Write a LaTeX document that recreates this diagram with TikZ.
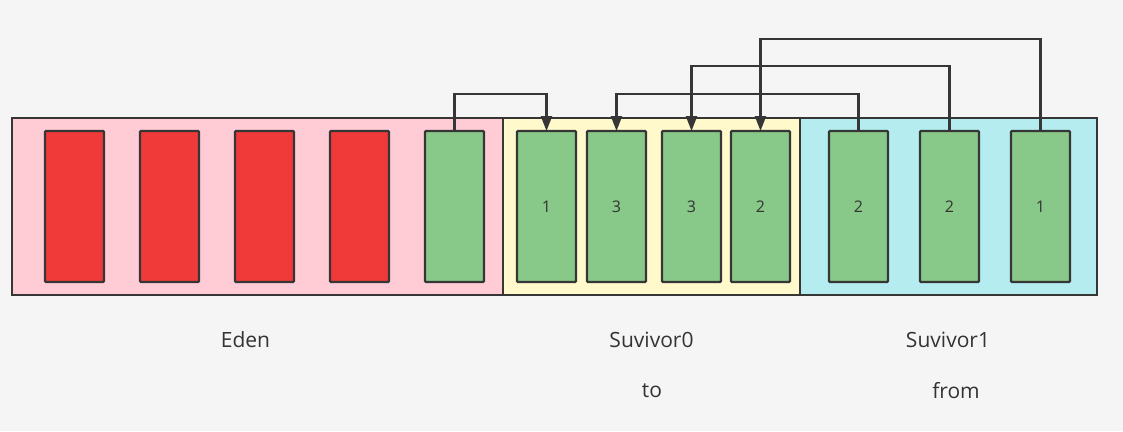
\documentclass[tikz,border=0pt]{standalone}
\usepackage{fontspec}
\setmainfont{Open Sans}
\usetikzlibrary{arrows.meta}
\definecolor{bgc}{HTML}{F5F5F5}
\definecolor{edenc}{HTML}{FFCCD5}
\definecolor{s0c}{HTML}{FFF9CC}
\definecolor{s1c}{HTML}{B4ECF0}
\definecolor{redc}{HTML}{F03A3A}
\definecolor{greenc}{HTML}{88C888}
\definecolor{strokec}{HTML}{363636}
\definecolor{textc}{HTML}{333333}
\tikzset{
  area/.style={draw=strokec, line width=2.4pt, rectangle, inner sep=0pt, outer sep=0pt, minimum height=177pt},
  obj/.style={draw=strokec, line width=2.4pt, rectangle, rounded corners=1pt, inner sep=0pt, outer sep=0pt, minimum width=59pt, minimum height=151pt, font=\fontsize{16}{18}\selectfont, text=textc},
  dead/.style={obj, fill=redc},
  live/.style={obj, fill=greenc},
  lbl/.style={font=\fontsize{21}{24}\selectfont, text=textc, inner sep=0pt},
  arr/.style={draw=strokec, line width=2.2pt, -{Triangle[length=15pt,width=11pt]}}
}
\begin{document}
\begin{tikzpicture}[x=1pt,y=-1pt]
\useasboundingbox (0,0) rectangle (1123,431);
\fill[bgc] (0,0) rectangle (1123,431);
% areas
\node[area, fill=edenc, minimum width=491pt] (eden) at (257.5,206.5) {};
\node[area, fill=s0c, minimum width=297pt] (surv0) at (651.5,206.5) {};
\node[area, fill=s1c, minimum width=297pt] (surv1) at (948.5,206.5) {};
% eden objects
\node[dead] (e1) at (74.5,206.5) {};
\node[dead] (e2) at (169.5,206.5) {};
\node[dead] (e3) at (264.5,206.5) {};
\node[dead] (e4) at (359.5,206.5) {};
\node[live] (e5) at (454.5,206.5) {};
% survivor0 objects
\node[live] (a1) at (546.5,206.5) {1};
\node[live] (a2) at (616.5,206.5) {3};
\node[live] (a3) at (691.5,206.5) {3};
\node[live] (a4) at (760.5,206.5) {2};
% survivor1 objects
\node[live] (b1) at (858.5,206.5) {2};
\node[live] (b2) at (949.5,206.5) {2};
\node[live] (b3) at (1040.5,206.5) {1};
% arrows
\draw[arr] (e5.north) -- ++(0,-37) -| (a1.north);
\draw[arr] (b1.north) -- ++(0,-37) -| (a2.north);
\draw[arr] (b2.north) -- ++(0,-65) -| (a3.north);
\draw[arr] (b3.north) -- ++(0,-92) -| (a4.north);
% labels
\node[lbl] (leden) at (245.5,340) {Eden};
\node[lbl] (ls0) at (651.5,340) {Suvivor0};
\node[lbl] (ls1) at (948,340) {Suvivor1};
\node[lbl] (lto) at (652,391) {to};
\node[lbl] (lfrom) at (956,391) {from};
\end{tikzpicture}
\end{document}
